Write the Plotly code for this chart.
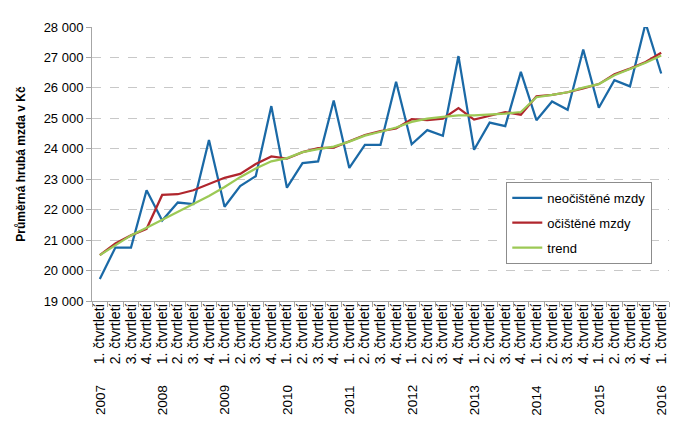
import plotly.graph_objects as go

years = ["2007", "2008", "2009", "2010", "2011", "2012", "2013", "2014", "2015", "2016"]
quarter_labels = ["1. čtvrtletí", "2. čtvrtletí", "3. čtvrtletí", "4. čtvrtletí"]

neocistene = [19720, 20757, 20757, 22637, 21642, 22235, 22183, 24290,
              22096, 22776, 23100, 25402, 22722, 23531, 23587, 25587,
              23370, 24128, 24128, 26203, 24148, 24614, 24430, 27045,
              23966, 24861, 24744, 26527, 24938, 25554, 25282, 27259,
              25347, 26255, 26050, 28125, 26472]
ocistene = [20507, 20886, 21155, 21372, 22484, 22507, 22637, 22851,
            23046, 23175, 23499, 23749, 23674, 23890, 24018, 24040,
            24258, 24452, 24582, 24666, 24971, 24938, 24990, 25337,
            24958, 25078, 25207, 25120, 25726, 25769, 25856, 25985,
            26125, 26449, 26634, 26851, 27152]
trend = [20507, 20831, 21155, 21405, 21664, 21911, 22183, 22452,
         22744, 23068, 23350, 23587, 23695, 23890, 23985, 24073,
         24235, 24430, 24560, 24700, 24883, 24990, 25045, 25100,
         25100, 25120, 25152, 25207, 25694, 25769, 25856, 26008,
         26125, 26417, 26611, 26828, 27065]

n = len(neocistene)
xs = list(range(n))
ticktext = [quarter_labels[i % 4] for i in xs]

fig = go.Figure()
fig.add_trace(go.Scatter(x=xs, y=neocistene, mode="lines", name="neočištěné mzdy",
                         legendgroup="a", line=dict(color="#1A69A6", width=2.25)))
fig.add_trace(go.Scatter(x=xs, y=ocistene, mode="lines", name="očištěné mzdy",
                         legendgroup="b", line=dict(color="#B0262D", width=2.25)))
fig.add_trace(go.Scatter(x=xs, y=trend, mode="lines", name="trend",
                         legendgroup="c", line=dict(color="#9CC955", width=2.25)))

for k, yr in enumerate(years):
    fig.add_annotation(x=4 * k, y=-0.362, xref="x", yref="paper", text=yr,
                       textangle=-90, showarrow=False,
                       font=dict(size=13.5, color="#000000"),
                       xanchor="center", yanchor="middle")

fig.update_layout(
    width=674, height=424,
    margin=dict(l=69, r=13, t=16, b=131),
    paper_bgcolor="white", plot_bgcolor="white",
    font=dict(family="Liberation Sans, Arial, sans-serif", color="#000000"),
    separators=", ",
    showlegend=True,
    legend=dict(x=0.718, y=0.435, xanchor="left", yanchor="top",
                bordercolor="#8C8C8C", borderwidth=1, bgcolor="white",
                font=dict(size=13), itemwidth=30, tracegroupgap=5,
                traceorder="grouped"),
    xaxis=dict(range=[-0.5, n - 0.5], tickmode="array", tickvals=xs, ticktext=ticktext,
               tickangle=-90, ticks="", showgrid=False, zeroline=False,
               showline=True, linecolor="#A6A6A6", linewidth=1,
               tickfont=dict(size=14), ticklabelstandoff=-4,
               minor=dict(tickmode="array", tickvals=[i - 0.5 for i in range(n + 1)],
                          ticks="outside", ticklen=5, tickcolor="#A6A6A6", showgrid=False)),
    yaxis=dict(range=[19000, 28000], dtick=1000, tick0=19000, tickformat=",d",
               showgrid=True, gridcolor="#C8C8C8", griddash="dash", gridwidth=1,
               zeroline=False, showline=True, linecolor="#A6A6A6", linewidth=1,
               ticks="outside", ticklen=5, tickcolor="#A6A6A6",
               tickfont=dict(size=13),
               title=dict(text="<b>Průměrná hrubá mzda v Kč</b>", font=dict(size=12), standoff=15)),
)

fig.write_html("out.html")
